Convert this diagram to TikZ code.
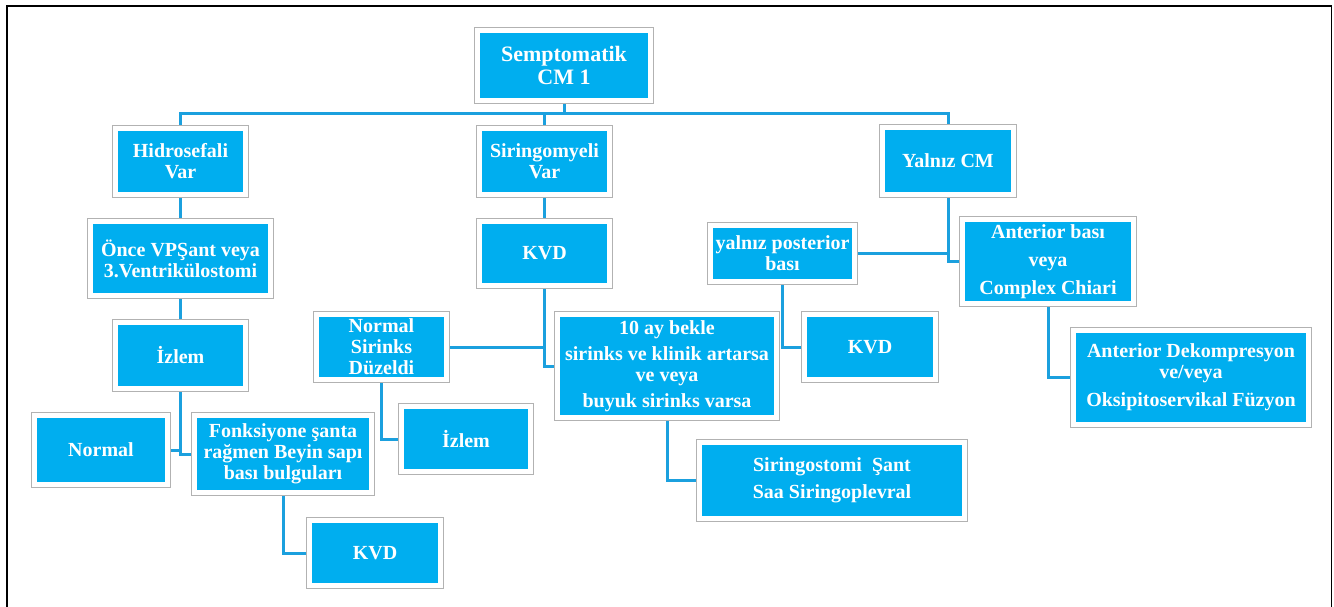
\documentclass[tikz,border=0pt]{standalone}
\usepackage{fontspec}
\setmainfont{Liberation Serif}
\usetikzlibrary{backgrounds}
\definecolor{boxBlue}{RGB}{0,174,239}
\definecolor{lineBlue}{RGB}{27,160,222}
\tikzset{
  box/.style={fill=boxBlue, draw=white, line width=5pt,
    preaction={draw=black!30, line width=6.5pt},
    text=white, align=center, inner sep=0pt,
    font=\bfseries\fontsize{20}{21}\selectfont},
  boxsize/.style 2 args={minimum width=#1pt, minimum height=#2pt},
  link/.style={lineBlue, line width=3pt}
}

\begin{document}
\begin{tikzpicture}[x=1pt, y=-1pt]

            \useasboundingbox (0,0) rectangle (1334,607);
            \draw[line width=1.5pt] (7,607) -- (7,6) -- (1331.5,6) -- (1331.5,607);

            % top
            \node[box, boxsize={173}{70}, font=\bfseries\fontsize{22}{23}\selectfont] (root) at (564,65.5) {Semptomatik\\CM 1};
            \node[box, boxsize={130}{66}] (hyd) at (180.5,161.5) {Hidrosefali\\Var};
            \node[box, boxsize={130}{66}] (sir) at (544.5,161.5) {Siringomyeli\\Var};
            \node[box, boxsize={131}{67}] (yal) at (948,161) {Yalnız CM};

            % left branch
            \node[box, boxsize={180}{74}] (once) at (180.5,258.5) {Önce VPŞant veya\\3.Ventrikülostomi};
            \node[box, boxsize={130}{66}] (izlA) at (180.5,355.5) {İzlem};
            \node[box, boxsize={133}{69}] (normal) at (101,450) {Normal};
            \node[box, boxsize={177}{77}] (fonk) at (283,454) {Fonksiyone şanta\\rağmen Beyin sapı\\bası bulguları};
            \node[box, boxsize={131}{65}] (kvdB) at (375,553) {KVD};

            % middle branch
            \node[box, boxsize={130}{64}] (kvdA) at (544.5,253.5) {KVD};
            \node[box, boxsize={130}{65}] (nsd) at (381.5,347) {Normal\\Sirinks\\Düzeldi};
            \node[box, boxsize={129}{65}] (izlB) at (466,439) {İzlem};
            \node[box, boxsize={219}{103}] (bekle) at (667,366) {10 ay bekle\\[5pt]sirinks ve klinik artarsa\\ve veya\\[5pt]buyuk sirinks varsa};
            \node[box, boxsize={265}{76}] (sant) at (832,480.5) {Siringostomi\ \ Şant\\[6pt]Saa Siringoplevral};

            % right branch
            \node[box, boxsize={144}{56}] (post) at (782.5,253.5) {yalnız posterior\\bası};
            \node[box, boxsize={131}{65}] (kvdC) at (870,347) {KVD};
            \node[box, boxsize={171}{84}] (ant) at (1048,261.5) {Anterior bası\\[7pt]veya\\[7pt]Complex Chiari};
            \node[box, boxsize={235}{94}] (dek) at (1191,377.5) {Anterior Dekompresyon\\ve/veya\\[7pt]Oksipitoservikal Füzyon};

            % connectors
            \begin{scope}[on background layer]
            \draw[link] (root.south) -- ++(0,11) -| (hyd.north);
            \draw[link] (root.south) -- ++(0,11) -| (sir.north);
            \draw[link] (root.south) -- ++(0,11) -| (yal.north);
            \draw[link] (hyd.south) -- (once.north);
            \draw[link] (once.south) -- (izlA.north);
            \draw[link] (izlA.south) |- (normal.east);
            \draw[link] (izlA.south) |- (fonk.west);
            \draw[link] (fonk.south) |- (kvdB.west);
            \draw[link] (sir.south) -- (kvdA.north);
            \draw[link] (kvdA.south) |- (nsd.east);
            \draw[link] (kvdA.south) |- (bekle.west);
            \draw[link] (nsd.south) |- (izlB.west);
            \draw[link] (bekle.south) |- (sant.west);
            \draw[link] (yal.south) |- (post.east);
            \draw[link] (yal.south) |- (ant.west);
            \draw[link] (post.south) |- (kvdC.west);
            \draw[link] (ant.south) |- (dek.west);
            \end{scope}

\end{tikzpicture}
\end{document}
